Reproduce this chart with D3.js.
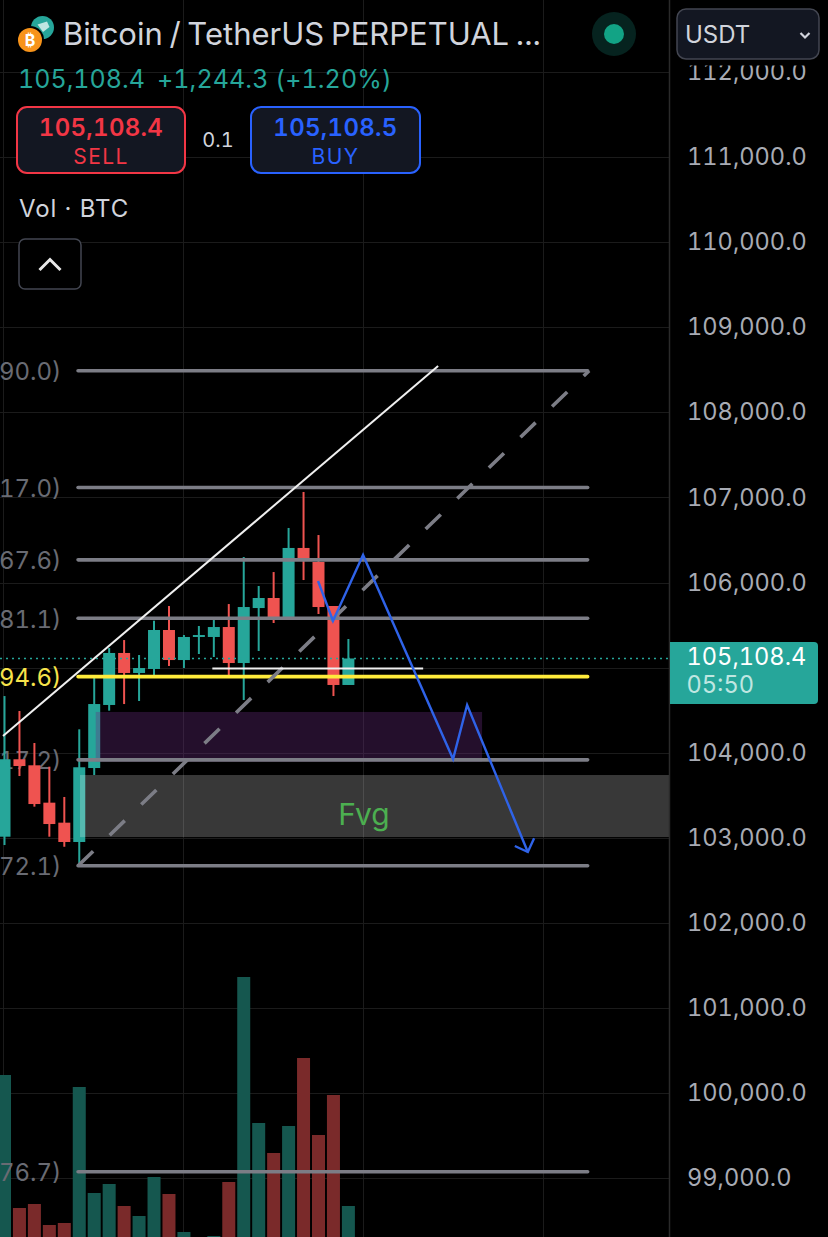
<!DOCTYPE html>
<html>
<head>
<meta charset="utf-8">
<script src="https://cdn.jsdelivr.net/npm/d3@7"></script>
<style>
  html, body { margin: 0; padding: 0; background: #000; }
  svg { display: block; font-family: Inter, "Noto Sans", sans-serif; font-variant-numeric: tabular-nums; font-feature-settings: "tnum" 1; }
</style>
</head>
<body>
<div id="chart"></div>
<script>
// candles, oldest first
const candleOpen = [103014, 103924, 103853, 103414, 103179, 102952, 103821, 104562, 105173, 104938, 104985, 105443, 105090, 105361, 105361, 105478, 105055, 105701, 105819, 105596, 106407, 106242, 105725, 104797]
const candleHigh = [104667, 104491, 104115, 103837, 103481, 104276, 104879, 105231, 105325, 105149, 105552, 105725, 105384, 105490, 105560, 105748, 106301, 105960, 106124, 106642, 107065, 106559, 105725, 105337]
const candleLow = [102916, 103727, 103367, 103014, 102896, 102701, 103739, 104495, 104573, 104609, 104914, 105020, 104996, 105161, 105126, 104914, 104620, 105196, 105525, 105596, 106030, 105631, 104667, 104797]
const candleClose = [103924, 103845, 103398, 103163, 102952, 103830, 104573, 105173, 104938, 104996, 105443, 105090, 105361, 105384, 105478, 105055, 105713, 105819, 105572, 106407, 106266, 105713, 104797, 105108.4]
const candleVolume = [1620, 290, 330, 120, 140, 1500, 440, 530, 310, 210, 600, 430, 50, 0, 10, 550, 2600, 1140, 840, 1110, 1790, 1020, 1420, 310]

const priceTicks = [112000, 111000, 110000, 109000, 108000, 107000, 106000, 105000, 104000, 103000, 102000, 101000, 100000, 99000]
const hiddenTick = 105000 // sits under the last price tag
const levelPrices = [108490, 107117, 106267.6, 105581.1, 104894.6, 103917.2, 102672.1, 99076.7]
const levelLabels = ['90.0)', '17.0)', '67.6)', '81.1)', '94.6)', '17.2)', '72.1)', '76.7)']
const lastPrice = 105108.4

// drawings, as [bar index, price]
const whiteTrend = [[-0.1, 104197], [29, 108545]]
const dashedTrend = [[4.92, 102672], [39.1, 108490]]
const whiteBase = [[13.9, 104991], [28, 104991]]
const bluePath = [[20.97, 106019], [21.97, 105549], [23.98, 106324], [30, 103927], [30.94, 104562], [35, 102834]]
const blueArrow = [[34.13, 102905], [35, 102834], [35.42, 102995]]
const purpleZone = { x: [6.1, 31.94], p: [104480, 103895] }
const fvgZone = { x: [5.05, 44.45], p: [103739, 103010] }

const width = 828, height = 1237
const plotRight = 669
const green = '#26a69a', red = '#ef5350'

const x = d3.scaleLinear().domain([0, 23]).range([4.5, 348.4])
const y = d3.scaleLinear().domain([112000, 99000]).range([72, 1178.3])
const vol = d3.scaleLinear().domain([0, 2600]).range([1237, 977])

const bars = candleOpen.map((o, i) => ({
  i, open: o, high: candleHigh[i], low: candleLow[i], close: candleClose[i], volume: candleVolume[i],
  up: candleClose[i] >= o
}))

const svg = d3.select('#chart').append('svg')
  .attr('width', width)
  .attr('height', height)
  .attr('viewBox', `0 0 ${width} ${height}`)

svg.append('rect').attr('width', width).attr('height', height).attr('fill', '#000')

// grid
const grid = svg.append('g').attr('stroke', '#1b1b1b').attr('stroke-width', 1)
grid.selectAll('.h').data(priceTicks).enter().append('line')
  .attr('x1', 0).attr('x2', plotRight)
  .attr('y1', d => Math.round(y(d)) + 0.5).attr('y2', d => Math.round(y(d)) + 0.5)
grid.selectAll('.v').data([-0.1, 11.94, 23.98, 36.02]).enter().append('line')
  .attr('y1', 0).attr('y2', height)
  .attr('x1', d => Math.round(x(d)) + 0.5).attr('x2', d => Math.round(x(d)) + 0.5)

// volume
svg.append('g').selectAll('rect').data(bars).enter().append('rect')
  .attr('x', d => x(d.i) - 6.5)
  .attr('width', 13)
  .attr('y', d => vol(d.volume))
  .attr('height', d => vol(0) - vol(d.volume))
  .attr('fill', d => d.up ? '#15574f' : '#7a2a2a')

// level labels go under the candles
svg.append('g').selectAll('text').data(levelLabels).enter().append('text')
  .attr('x', 61.5)
  .attr('y', (d, i) => y(levelPrices[i]) + 9.5)
  .attr('text-anchor', 'end')
  .attr('font-size', 24)
  .attr('fill', (d, i) => i === 4 ? '#f7e34a' : '#696b73')
  .text(d => d)

// candles
const candles = svg.append('g').selectAll('g').data(bars).enter().append('g')
candles.append('line')
  .attr('x1', d => x(d.i)).attr('x2', d => x(d.i))
  .attr('y1', d => y(d.high)).attr('y2', d => y(d.low))
  .attr('stroke', d => d.up ? green : red).attr('stroke-width', 2)
candles.append('rect')
  .attr('x', d => x(d.i) - 6)
  .attr('width', 12)
  .attr('y', d => y(Math.max(d.open, d.close)))
  .attr('height', d => Math.abs(y(d.open) - y(d.close)))
  .attr('fill', d => d.up ? green : red)

// zones
const zone = (z, fill) => svg.append('rect')
  .attr('x', x(z.x[0])).attr('width', x(z.x[1]) - x(z.x[0]))
  .attr('y', y(z.p[0])).attr('height', y(z.p[1]) - y(z.p[0]))
  .attr('fill', fill)
zone(purpleZone, 'rgba(106,44,130,0.34)')
zone(fvgZone, 'rgba(255,255,255,0.22)')

svg.append('text')
  .attr('x', 364).attr('y', 825)
  .attr('text-anchor', 'middle')
  .attr('font-size', 30)
  .attr('fill', '#4caf50')
  .text('Fvg')

// last price line
svg.append('line')
  .attr('x1', 0).attr('x2', plotRight)
  .attr('y1', y(lastPrice)).attr('y2', y(lastPrice))
  .attr('stroke', green).attr('stroke-width', 1.5).attr('stroke-dasharray', '2 4')

const line = d3.line().x(d => x(d[0])).y(d => y(d[1]))

// levels
svg.append('g').selectAll('line').data(levelPrices).enter().append('line')
  .attr('x1', x(4.92)).attr('x2', x(39))
  .attr('y1', d => y(d)).attr('y2', d => y(d))
  .attr('stroke', (d, i) => i === 4 ? '#ffeb3b' : '#7c7d86')
  .attr('stroke-width', 3.6)
  .attr('stroke-linecap', 'round')

// trend lines
svg.append('path').attr('d', line(dashedTrend)).attr('fill', 'none')
  .attr('stroke', '#7c7d86').attr('stroke-width', 3.6).attr('stroke-dasharray', '21 23')
svg.append('path').attr('d', line(whiteTrend)).attr('fill', 'none')
  .attr('stroke', '#f0f0f0').attr('stroke-width', 2)
svg.append('path').attr('d', line(whiteBase)).attr('fill', 'none')
  .attr('stroke', '#f0f0f0').attr('stroke-width', 2)
svg.append('path').attr('d', line(bluePath)).attr('fill', 'none')
  .attr('stroke', '#2f63e8').attr('stroke-width', 2.4)
svg.append('path').attr('d', line(blueArrow)).attr('fill', 'none')
  .attr('stroke', '#2f63e8').attr('stroke-width', 2.4)

// price axis
const axis = svg.append('g')
  .attr('transform', `translate(${plotRight},0)`)
  .call(d3.axisRight(y).tickValues(priceTicks.filter(d => d !== hiddenTick)).tickFormat(d3.format(',.1f')).tickSize(0).tickPadding(18))
axis.select('.domain').remove()
axis.selectAll('text').attr('font-size', 23.6).attr('fill', '#a8abb4').attr('font-family', 'Inter, sans-serif')
svg.append('line')
  .attr('x1', plotRight + 0.5).attr('x2', plotRight + 0.5).attr('y1', 0).attr('y2', height)
  .attr('stroke', '#2a2a2a').attr('stroke-width', 1.5)
// the top tick is cut off by the header
svg.append('rect').attr('x', plotRight + 2).attr('y', 0).attr('width', width - plotRight).attr('height', 65.5).attr('fill', '#000')

// last price tag
svg.append('path').attr('d', 'M670,642H814a4,4 0 0 1 4,4V700a4,4 0 0 1 -4,4H670Z').attr('fill', green)
svg.append('text').attr('x', 686.5).attr('y', 665).attr('font-size', 23.6).attr('fill', '#fff').text(d3.format(',.1f')(lastPrice))
svg.append('text').attr('x', 686.5).attr('y', 693).attr('font-size', 23.6).attr('fill', '#bfe6e1').text('05:50')

// header
const head = svg.append('g')
head.append('circle').attr('cx', 42.5).attr('cy', 27.5).attr('r', 11.5).attr('fill', '#26a69a')
head.append('path').attr('d', 'M37.5,24.5L47,21.5L49.5,27L43,32Z').attr('fill', '#bfe6e1')
head.append('circle').attr('cx', 30).attr('cy', 40).attr('r', 14).attr('fill', '#000')
head.append('circle').attr('cx', 30).attr('cy', 40).attr('r', 12).attr('fill', '#f7931a')
head.append('text').attr('x', 30).attr('y', 46).attr('text-anchor', 'middle').attr('font-size', 16).attr('font-weight', 700).attr('fill', '#fff').text('₿')
head.append('text').attr('x', 63).attr('y', 45).attr('font-size', 31).attr('word-spacing', -1.6).attr('fill', '#d1d4dc').text('Bitcoin / TetherUS PERPETUAL ...')
head.append('text').attr('x', 18).attr('y', 88).attr('font-size', 25).attr('fill', green).text('105,108.4')
head.append('text').attr('x', 157).attr('y', 88).attr('font-size', 25).attr('letter-spacing', 0.1).attr('fill', green).text('+1,244.3 (+1.20%)')

const button = (x0, w, stroke, price, label) => {
  head.append('rect').attr('x', x0).attr('y', 107).attr('width', w).attr('height', 66).attr('rx', 10)
    .attr('fill', '#131722').attr('stroke', stroke).attr('stroke-width', 2)
  head.append('text').attr('x', x0 + w / 2).attr('y', 136).attr('text-anchor', 'middle')
    .attr('font-size', 24).attr('font-weight', 600).attr('letter-spacing', 0.3).attr('fill', stroke).text(price)
  head.append('text').attr('x', x0 + w / 2).attr('y', 164).attr('text-anchor', 'middle')
    .attr('font-size', 21).attr('letter-spacing', 1.4).attr('fill', stroke).text(label)
}
button(17, 168, '#f23645', '105,108.4', 'SELL')
button(251, 169, '#2962ff', '105,108.5', 'BUY')
head.append('text').attr('x', 218).attr('y', 147).attr('text-anchor', 'middle').attr('font-size', 20).attr('fill', '#d1d4dc').text('0.1')
head.append('text').attr('x', 19).attr('y', 217).attr('font-size', 24).attr('letter-spacing', 0.9).attr('fill', '#d1d4dc').text('Vol · BTC')

head.append('rect').attr('x', 19).attr('y', 239).attr('width', 62).attr('height', 50).attr('rx', 6)
  .attr('fill', '#000').attr('stroke', '#434651').attr('stroke-width', 1.5)
head.append('path').attr('d', 'M39.5,270L50,259.5L60.5,270').attr('fill', 'none').attr('stroke', '#e8e8e8').attr('stroke-width', 3)

head.append('circle').attr('cx', 614).attr('cy', 34).attr('r', 22).attr('fill', '#06231f')
head.append('circle').attr('cx', 614).attr('cy', 34).attr('r', 10).attr('fill', '#12a385')

head.append('rect').attr('x', 677).attr('y', 9).attr('width', 142).attr('height', 50).attr('rx', 9)
  .attr('fill', '#131722').attr('stroke', '#434651').attr('stroke-width', 1.5)
head.append('text').attr('x', 685).attr('y', 43).attr('font-size', 24).attr('fill', '#d1d4dc').text('USDT')
head.append('path').attr('d', 'M800.5,33L805,37.5L809.5,33').attr('fill', 'none').attr('stroke', '#d1d4dc').attr('stroke-width', 2.2)
</script>
</body>
</html>
